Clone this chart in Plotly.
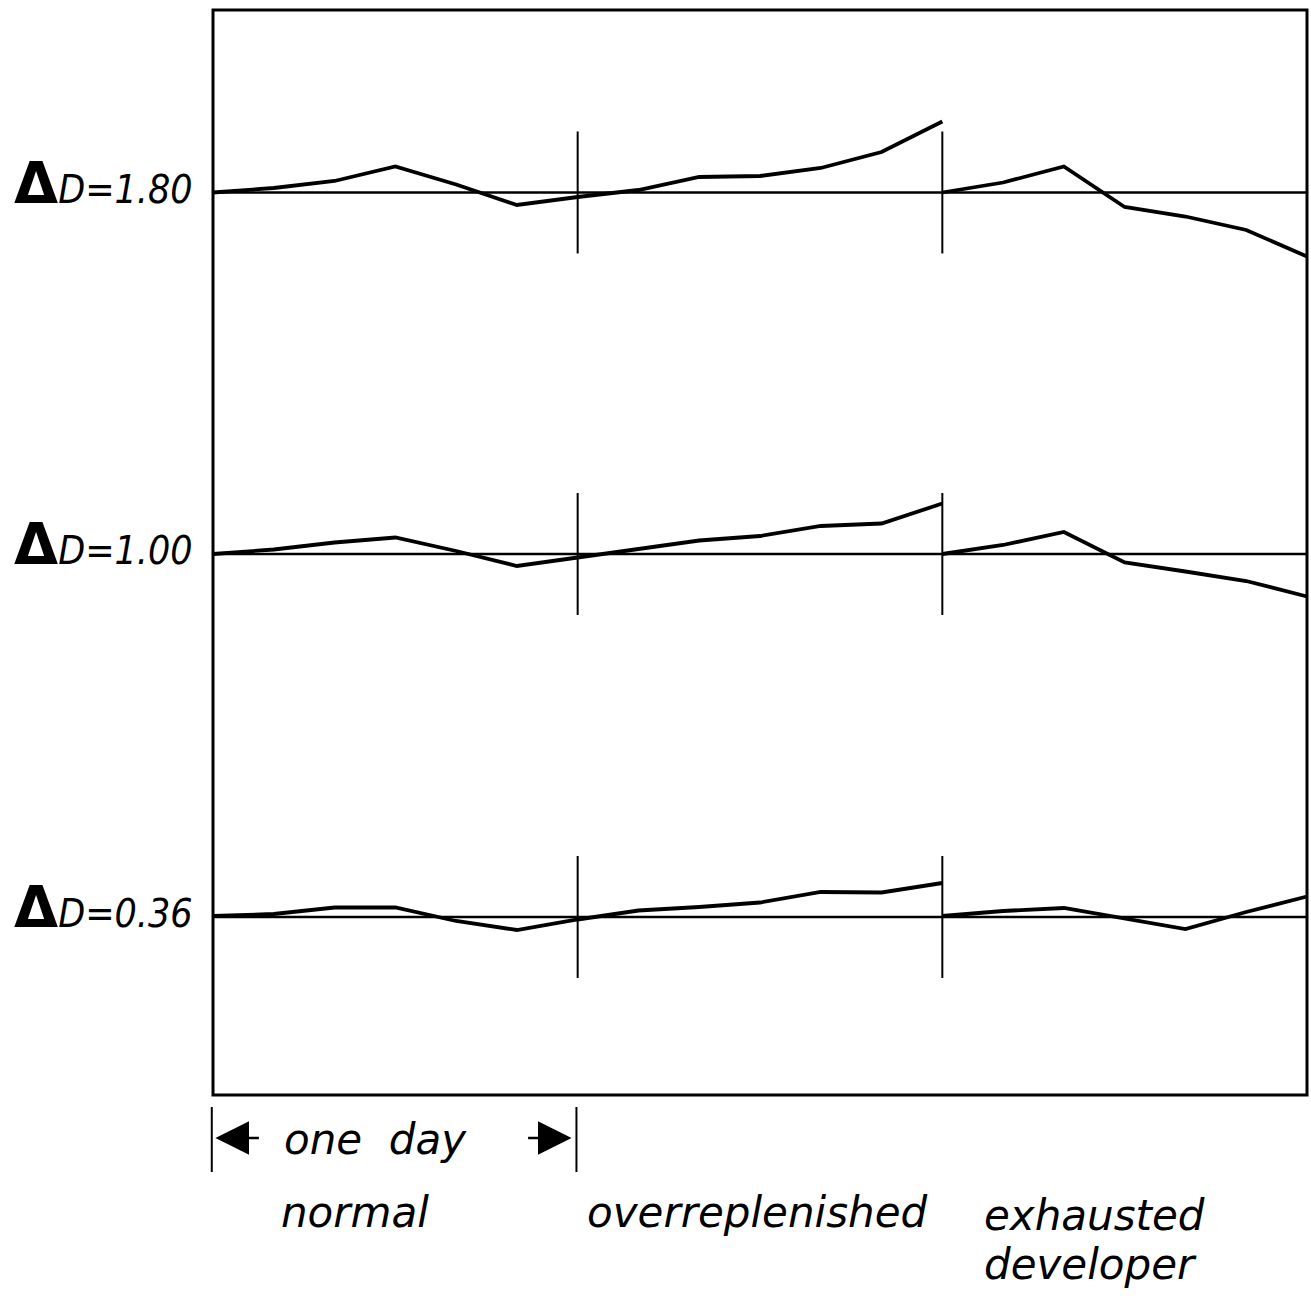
import plotly.graph_objects as go

# ---------------- data ----------------
# time axis: 19 sampling points over three days (one day = 6 intervals)
X = list(range(19))
DAY_BOUNDS = [6, 12]
PHASES = ["normal", "overreplenished", "exhausted", "developer"]

GROUP_LABELS = ["1.80", "1.00", "0.36"]
# vertical position of each group's reference line on the chart
GROUP_LEVEL = [1.805, 1.082, 0.356]

# density deviations from the reference line, per group and phase
NORMAL = [
    [0.000, 0.009, 0.023, 0.052, 0.016, -0.025, -0.009],
    [0.000, 0.009, 0.023, 0.033, 0.006, -0.024, -0.007],
    [0.002, 0.006, 0.019, 0.019, -0.008, -0.026, -0.005],
]
OVERREPLENISHED = [  # continues from the last "normal" point
    [0.005, 0.031, 0.033, 0.049, 0.081, 0.142],
    [0.010, 0.027, 0.036, 0.056, 0.061, 0.101],
    [0.013, 0.020, 0.029, 0.050, 0.049, 0.068],
]
EXHAUSTED = [
    [0.000, 0.020, 0.052, -0.029, -0.048, -0.075, -0.128],
    [0.000, 0.018, 0.044, -0.017, -0.035, -0.054, -0.085],
    [0.002, 0.012, 0.018, -0.003, -0.024, 0.010, 0.041],
]
DIVIDER_HALF = 0.122
FRAME_TOP = 2.17

# ---------------- figure ----------------
fig = go.Figure()
BLACK = "#000000"

for g in range(3):
    lvl = GROUP_LEVEL[g]
    # reference line
    fig.add_trace(go.Scatter(x=[X[0], X[-1]], y=[lvl, lvl], mode="lines",
                             line=dict(color=BLACK, width=2.4), hoverinfo="skip"))
    # normal + overreplenished (continuous)
    dev = NORMAL[g] + OVERREPLENISHED[g]
    fig.add_trace(go.Scatter(x=X[0:13], y=[lvl + d for d in dev], mode="lines",
                             line=dict(color=BLACK, width=3.8), hoverinfo="skip"))
    # exhausted developer (restarts at reference)
    fig.add_trace(go.Scatter(x=X[12:19], y=[lvl + d for d in EXHAUSTED[g]], mode="lines",
                             line=dict(color=BLACK, width=3.8), hoverinfo="skip"))
    # day dividers
    for b in DAY_BOUNDS:
        fig.add_shape(type="line", x0=b, x1=b, y0=lvl - DIVIDER_HALF, y1=lvl + DIVIDER_HALF,
                      xref="x", yref="y", line=dict(color=BLACK, width=2))
    # label
    fig.add_annotation(
        x=-0.30, y=lvl + 0.02, xref="x", yref="y", xanchor="right", yanchor="middle",
        showarrow=False,
        text=("<span style='font-family:DejaVu Sans;font-weight:bold;font-style:normal;"
              "font-size:57px'>Δ</span>D=" + GROUP_LABELS[g]),
        font=dict(family="DejaVu Sans Condensed, Liberation Sans",
                  size=39, color=BLACK, style="italic"),
    )

# frame
fig.add_shape(type="rect", x0=X[0], x1=X[-1], y0=0, y1=FRAME_TOP, xref="x", yref="y",
              line=dict(color=BLACK, width=3))

# "one day" marker
for b in [X[0], DAY_BOUNDS[0]]:
    fig.add_shape(type="line", x0=b - 0.02, x1=b - 0.02, y0=-0.024, y1=-0.154,
                  xref="x", yref="y", line=dict(color=BLACK, width=2))
fig.add_annotation(x=0.04, y=-0.086, ax=0.78, ay=-0.086, xref="x", yref="y",
                   axref="x", ayref="y", showarrow=True, arrowhead=2, arrowsize=2.8,
                   arrowwidth=2.4, arrowcolor=BLACK, text="")
fig.add_annotation(x=5.90, y=-0.086, ax=5.16, ay=-0.086, xref="x", yref="y",
                   axref="x", ayref="y", showarrow=True, arrowhead=2, arrowsize=2.8,
                   arrowwidth=2.4, arrowcolor=BLACK, text="")

TXT = dict(family="DejaVu Sans", size=42, color=BLACK, style="italic")
fig.add_annotation(x=2.68, y=-0.088, xref="x", yref="y", showarrow=False,
                   text="one\u00a0\u00a0day", font=TXT, xanchor="center", yanchor="middle")

# phase labels
PHASE_POS = [(1.086, -0.234), (6.12, -0.234), (12.66, -0.240), (12.66, -0.338)]
for txt, (px, py) in zip(PHASES, PHASE_POS):
    fig.add_annotation(x=px, y=py, xref="x", yref="y", showarrow=False, text=txt,
                       font=TXT, xanchor="left", yanchor="middle")

fig.update_layout(
    width=1311, height=1296, margin=dict(l=0, r=0, t=0, b=0),
    paper_bgcolor="white", plot_bgcolor="white", showlegend=False,
    xaxis=dict(range=[-3.5045, 18.0658], visible=False, fixedrange=True),
    yaxis=dict(range=[-0.402, 2.19], visible=False, fixedrange=True),
)

# remove the browser's default 8 px body margin so the figure fills the window exactly
fig.write_html("out.html", config={"displayModeBar": False},
               post_script="document.body.style.margin='0';")
